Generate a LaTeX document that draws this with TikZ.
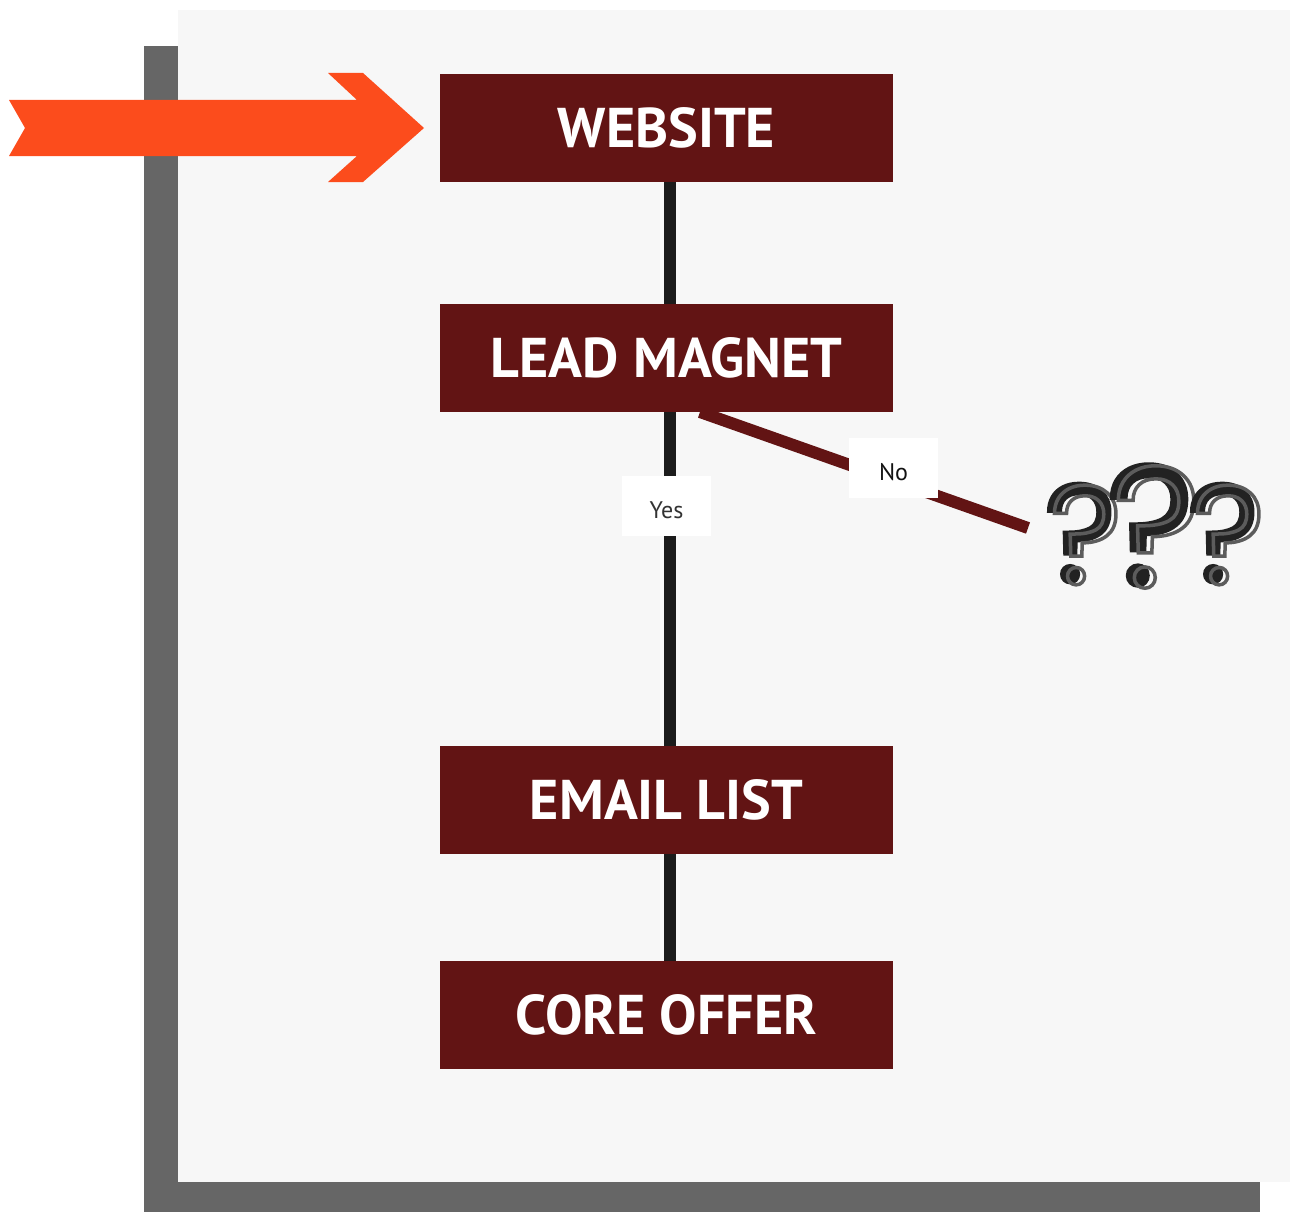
\documentclass[tikz,border=0pt]{standalone}
\usepackage{fontspec}
\setmainfont{PT Sans}
\newfontfamily\qfont{Poppins}
\definecolor{panel}{HTML}{F7F7F7}
\definecolor{shadowc}{HTML}{666666}
\definecolor{maroon}{HTML}{621414}
\definecolor{orangec}{HTML}{FC4C1C}
\definecolor{linec}{HTML}{1B1B1B}
\definecolor{qback}{HTML}{5C5C5C}
\definecolor{qfront}{HTML}{222222}
\newcommand{\outlinedglyph}[1]{\special{pdf:literal direct 1 Tr 3.5 w}#1\special{pdf:literal direct 0 Tr 1 w}}
\newcommand{\heavyglyph}[1]{\special{pdf:literal direct 2 Tr 3 w}#1\special{pdf:literal direct 0 Tr 1 w}}
\begin{document}
\begin{tikzpicture}[x=1pt,y=-1pt,
  stagebox/.style={fill=maroon, text=white, minimum width=453pt, minimum height=108pt,
    inner sep=0pt, font=\fontsize{56}{60}\selectfont\bfseries},
  tag/.style={fill=white, minimum width=89pt, minimum height=60pt, inner sep=0pt,
    font=\fontsize{24}{28}\selectfont},
  qmark/.style={inner sep=0pt, font=\qfont\fontsize{#1}{#1}\selectfont},
]
\useasboundingbox (0,0) rectangle (1290,1212);
% shadow and panel
\fill[shadowc] (144,46) rectangle (1260,1212);
\fill[panel] (178,10) rectangle (1290,1182);
% orange arrow
\fill[orangec] (9,100) -- (357,100) -- (328,73) -- (363,73) -- (424,128)
  -- (363,182) -- (328,182) -- (357,156) -- (9,156) -- (25,128) -- cycle;
% boxes
\node[stagebox] (web) at (666.5,128) {WEBSITE};
\node[stagebox] (lead) at (666.5,358) {LEAD MAGNET};
\node[stagebox] (email) at (666.5,800) {EMAIL LIST};
\node[stagebox] (core) at (666.5,1015) {CORE OFFER};
% connectors
\coordinate (noStart) at (700,412);
\coordinate (noEnd) at (1028,528);
\draw[linec, line width=12pt] ([xshift=3.5pt]web.south) -- ([xshift=3.5pt]lead.north);
\draw[linec, line width=12pt] ([xshift=3.5pt]lead.south) -- ([xshift=3.5pt]email.north);
\draw[linec, line width=12pt] ([xshift=3.5pt]email.south) -- ([xshift=3.5pt]core.north);
\draw[maroon, line width=12pt] (noStart) -- (noEnd);
\node[tag, text=black!80] (yes) at (666.5,506) {\raisebox{-12.5pt}[0pt][0pt]{Yes}};
\node[tag, text=black!93] (no) at (893.5,468) {\raisebox{-12.5pt}[0pt][0pt]{No}};
% question marks
\node[qmark=140, text=qfront] (q1) at (1080,533) {\heavyglyph{?}};
\node[qmark=140, text=qback] (q1o) at (1086,535) {\outlinedglyph{?}};
\node[qmark=172, text=qfront] (q2) at (1150,525) {\heavyglyph{?}};
\node[qmark=172, text=qback] (q2o) at (1157,527) {\outlinedglyph{?}};
\node[qmark=140, text=qfront] (q3) at (1223,533) {\heavyglyph{?}};
\node[qmark=140, text=qback] (q3o) at (1229,535) {\outlinedglyph{?}};
\end{tikzpicture}
\end{document}
